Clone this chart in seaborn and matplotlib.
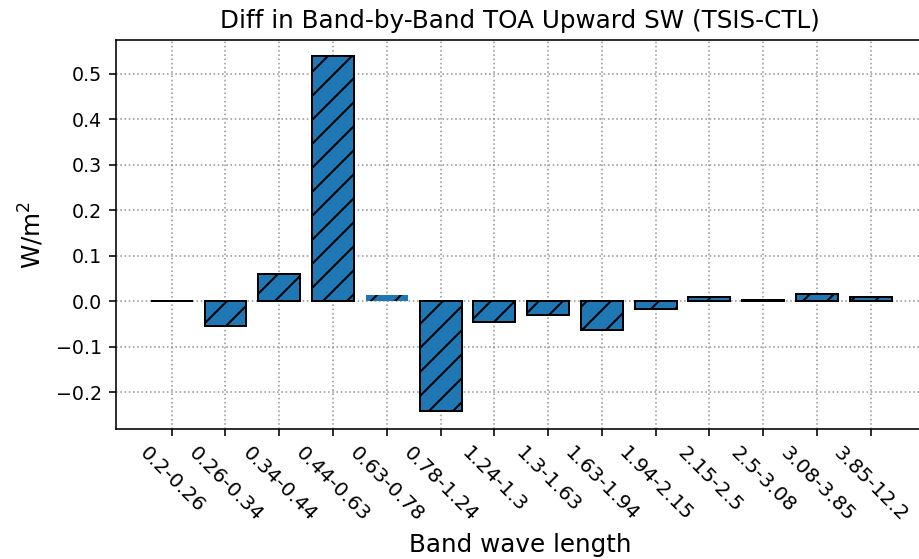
import matplotlib
matplotlib.use("Agg")
import matplotlib.pyplot as plt
import seaborn as sns
import pandas as pd

bands = ["0.2-0.26", "0.26-0.34", "0.34-0.44", "0.44-0.63", "0.63-0.78",
         "0.78-1.24", "1.24-1.3", "1.3-1.63", "1.63-1.94", "1.94-2.15",
         "2.15-2.5", "2.5-3.08", "3.08-3.85", "3.85-12.2"]
diff = [0.001, -0.055, 0.061, 0.539, 0.013, -0.240, -0.045, -0.030,
        -0.062, -0.016, 0.009, 0.002, 0.017, 0.009]

df = pd.DataFrame({"band": bands, "diff": diff})

DPI = 144
plt.rcParams["hatch.linewidth"] = 1.0
fig = plt.figure(figsize=(919 / DPI, 559 / DPI), dpi=DPI)
ax = fig.add_axes([0.126, 0.232, 0.880, 0.697])

sns.barplot(data=df, x="band", y="diff", order=bands, color="#1f77b4",
            saturation=1, width=0.78, edgecolor="black", linewidth=1.0,
            hatch="//", ax=ax)
# the 0.63-0.78 bar is drawn without an outline in the reference
ax.patches[4].set_linewidth(0)

ax.set_xlim(-1.04, 14.0)
ax.set_ylim(-0.281, 0.575)
ax.set_yticks([-0.2, -0.1, 0.0, 0.1, 0.2, 0.3, 0.4, 0.5])
ax.grid(True, linestyle=":", color="gray", linewidth=0.8, alpha=0.8)
ax.set_axisbelow(True)
ax.tick_params(axis="y", labelsize=9.5)
ax.tick_params(axis="x", labelsize=10)
plt.setp(ax.get_xticklabels(), rotation=-45, ha="center")
ax.set_xlabel("Band wave length", fontsize=12.3)
ax.set_ylabel("W/m$^2$", fontsize=12.3, labelpad=5)
ax.set_title("Diff in Band-by-Band TOA Upward SW (TSIS-CTL)", fontsize=12.3)

fig.savefig("out.png", dpi=DPI)
